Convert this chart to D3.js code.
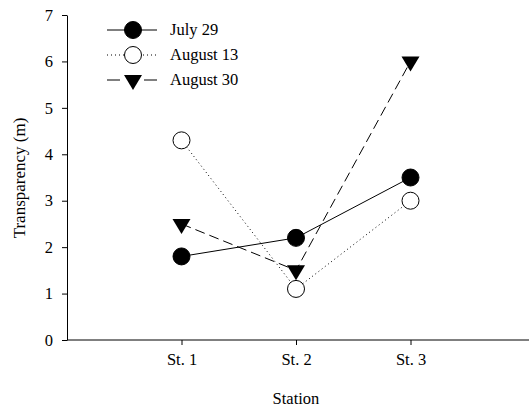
<!DOCTYPE html>
<html>
<head>
<meta charset="utf-8">
<script src="https://cdn.jsdelivr.net/npm/d3@7"></script>
<style>
  body { margin: 0; background: #fff; }
  text { font-family: "Liberation Serif", "Times New Roman", serif; }
</style>
</head>
<body>
<svg id="chart" width="529" height="409"></svg>
<script>
const stations = ["St. 1", "St. 2", "St. 3"];
const july29 = [1.8, 2.2, 3.5];
const august13 = [4.3, 1.1, 3.0];
const august30 = [2.5, 1.5, 6.0];
const yTicks = [0, 1, 2, 3, 4, 5, 6, 7];

const series = [
    { name: "July 29", values: july29, marker: "circleFill", dash: null },
    { name: "August 13", values: august13, marker: "circleOpen", dash: "1,3" },
    { name: "August 30", values: august30, marker: "triangle", dash: "10,5" },
];

const svg = d3.select("#chart");
const plotLeft = 67, plotRight = 525, plotTop = 15, plotBottom = 340;
const fontSize = 16.5;

const x = d3.scaleLinear().domain([0, 4]).range([plotLeft, plotRight]);
const y = d3.scaleLinear().domain([0, 7]).range([plotBottom, plotTop]);

// axes
svg.append("g")
    .attr("transform", `translate(${plotLeft},0)`)
    .call(d3.axisLeft(y).tickValues(yTicks).tickSize(5).tickSizeOuter(0).tickPadding(9).tickFormat(d3.format("d")))
    .call(g => g.selectAll("text").attr("font-size", fontSize).attr("fill", "#000"));

svg.append("g")
    .attr("transform", `translate(0,${plotBottom})`)
    .call(d3.axisBottom(x).tickValues([1, 2, 3]).tickSize(5).tickSizeOuter(0).tickPadding(8).tickFormat(d => stations[d - 1]))
    .call(g => g.selectAll("text").attr("font-size", fontSize).attr("fill", "#000"))
    .call(g => g.select(".domain").attr("d", `M${plotLeft},0H529`));

svg.selectAll(".domain, .tick line").attr("stroke", "#000");

svg.append("text")
    .attr("x", x(2))
    .attr("y", 404)
    .attr("text-anchor", "middle")
    .attr("font-size", fontSize)
    .text("Station");

svg.append("text")
    .attr("transform", `translate(25,178) rotate(-90)`)
    .attr("text-anchor", "middle")
    .attr("font-size", 17)
    .text("Transparency (m)");

function drawMarker(g, type, cx, cy) {
    if (type === "triangle") {
        // centroid on the data point
        g.append("path")
            .attr("d", `M${cx - 9},${cy - 5}L${cx + 9},${cy - 5}L${cx},${cy + 10}Z`)
            .attr("fill", "#000");
    } else {
        g.append("circle")
            .attr("cx", cx).attr("cy", cy).attr("r", 8.5)
            .attr("fill", type === "circleFill" ? "#000" : "#fff")
            .attr("stroke", "#000")
            .attr("stroke-width", 1);
    }
}

const line = d3.line().x((d, i) => x(i + 1)).y(d => y(d));

series.forEach(s => {
    svg.append("path")
        .datum(s.values)
        .attr("d", line)
        .attr("fill", "none")
        .attr("stroke", "#000")
        .attr("stroke-width", 1)
        .attr("stroke-dasharray", s.dash);
});
// markers on top
series.forEach(s => {
    const g = svg.append("g");
    s.values.forEach((v, i) => drawMarker(g, s.marker, x(i + 1), y(v)));
});

// legend
const legend = svg.append("g");
series.forEach((s, i) => {
    const ly = 30 + i * 25;
    legend.append("line")
        .attr("x1", 107).attr("x2", 157)
        .attr("y1", ly).attr("y2", ly)
        .attr("stroke", "#000")
        .attr("stroke-dasharray", s.dash === "10,5" ? "13,24" : s.dash);
    drawMarker(legend, s.marker, 133, ly);
    legend.append("text")
        .attr("x", 170).attr("y", ly + 5)
        .attr("font-size", fontSize)
        .text(s.name);
});
</script>
</body>
</html>
